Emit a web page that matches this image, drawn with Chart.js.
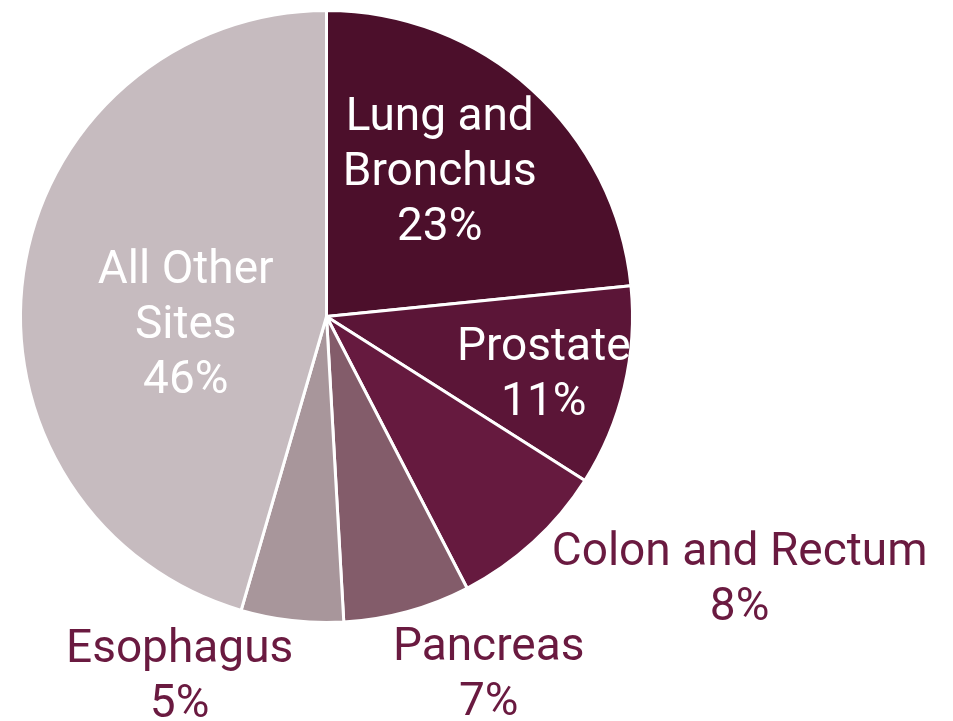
<!DOCTYPE html>
<html>
<head>
<meta charset="utf-8">
<script src="https://cdn.jsdelivr.net/npm/chart.js@4"></script>
<style>
  html, body { margin: 0; padding: 0; background: #ffffff; }
  #wrap { width: 953px; height: 721px; position: relative; }
</style>
</head>
<body>
<div id="wrap"><canvas id="pieChart"></canvas></div>
<script>
// categories and share of deaths (%), clockwise from 12 o'clock
const sites = ['Lung and Bronchus', 'Prostate', 'Colon and Rectum', 'Pancreas', 'Esophagus', 'All Other Sites'];
const shares = [23.4, 10.6, 8.4, 6.7, 5.4, 45.5];
const shareLabels = ['23%', '11%', '8%', '7%', '5%', '46%'];
// how each label is broken into lines
const labelLines = [
  ['Lung and', 'Bronchus'],
  ['Prostate'],
  ['Colon and Rectum'],
  ['Pancreas'],
  ['Esophagus'],
  ['All Other', 'Sites']
];

const sliceColors = ['#4c0f2b', '#5b1537', '#661a3f', '#835c6a', '#a8969b', '#c6bbbf'];
const textColors = ['#ffffff', '#ffffff', '#6a1a40', '#6a1a40', '#6a1a40', '#ffffff'];
// label centre relative to the pie centre, in units of the radius
const labelOffsets = [
  [0.37, -0.466],
  [0.71, 0.196],
  [1.35, 0.866],
  [0.53, 1.175],
  [-0.48, 1.18],
  [-0.46, 0.034]
];

const FONT = 'Roboto, "Open Sans", sans-serif';
const FONT_SIZE = 46;
const LINE_H = 55;

const sliceLabels = {
  id: 'sliceLabels',
  afterDatasetsDraw(chart) {
    const ctx = chart.ctx;
    const arcs = chart.getDatasetMeta(0).data;
    ctx.save();
    ctx.font = FONT_SIZE + 'px ' + FONT;
    ctx.textAlign = 'center';
    ctx.textBaseline = 'middle';
    arcs.forEach((arc, i) => {
      const r = arc.outerRadius;
      const cx = arc.x + labelOffsets[i][0] * r;
      const cy = arc.y + labelOffsets[i][1] * r;
      const lines = labelLines[i].concat([shareLabels[i]]);
      const top = cy - (lines.length - 1) * LINE_H / 2;
      ctx.fillStyle = textColors[i];
      lines.forEach((t, k) => ctx.fillText(t, cx, top + k * LINE_H));
    });
    ctx.restore();
  }
};

new Chart(document.getElementById('pieChart'), {
  type: 'pie',
  data: {
    labels: sites,
    datasets: [{
      data: shares,
      backgroundColor: sliceColors,
      borderColor: '#ffffff',
      borderWidth: 3
    }]
  },
  options: {
    responsive: true,
    maintainAspectRatio: false,
    animation: false,
    layout: { padding: { left: 19, right: 319, top: 8, bottom: 96 } },
    plugins: {
      legend: { display: false },
      tooltip: { enabled: false }
    }
  },
  plugins: [sliceLabels]
});
</script>
</body>
</html>
